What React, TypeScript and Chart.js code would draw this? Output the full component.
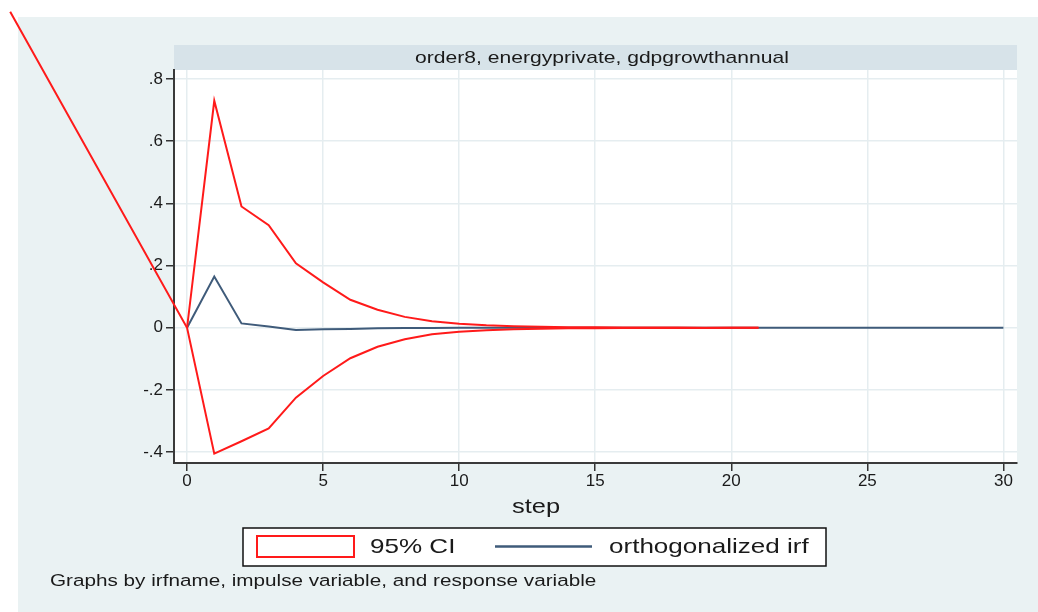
import React, { useEffect, useRef } from 'react';
import { Chart, registerables } from 'chart.js';

Chart.register(...registerables);

// ---- data ----
const steps = [0, 1, 2, 3, 4, 5, 6, 7, 8, 9, 10, 11, 12, 13, 14, 15, 16, 17, 18, 19, 20, 21, 22, 23, 24, 25, 26, 27, 28, 29, 30];
// the CI outline is only visible up to step 21 in the reference
const ciUpper = [0, 0.73, 0.39, 0.33, 0.207, 0.146, 0.09, 0.058, 0.035, 0.021, 0.013, 0.008, 0.005, 0.003, 0.002, 0.0015, 0.001, 0.0008, 0.0006, 0.0004, 0.0003, 0.0002];
const ciLower = [0, -0.405, -0.365, -0.324, -0.225, -0.155, -0.098, -0.061, -0.037, -0.021, -0.013, -0.008, -0.005, -0.003, -0.002, -0.0015, -0.001, -0.0008, -0.0006, -0.0004, -0.0003, -0.0002];
const irf = [0, 0.165, 0.014, 0.004, -0.007, -0.005, -0.004, -0.002, -0.001, -0.0005, -0.0002, 0, 0, 0, 0, 0, 0, 0, 0, 0, 0, 0, 0, 0, 0, 0, 0, 0, 0, 0, 0];
// stray CI outline segment that runs out of the plot to the upper left
const strayStep = -6.5;
const strayValue = 1.016;

const xTicks = [0, 5, 10, 15, 20, 25, 30];
const xTickLabels = ['0', '5', '10', '15', '20', '25', '30'];
const yTicks = [-0.4, -0.2, 0, 0.2, 0.4, 0.6, 0.8];
const yTickLabels = ['-.4', '-.2', '0', '.2', '.4', '.6', '.8'];

const panelTitle = 'order8, energyprivate, gdpgrowthannual';
const xTitle = 'step';
const legendLabels = ['95% CI', 'orthogonalized irf'];
const note = 'Graphs by irfname, impulse variable, and response variable';

const FONT = '"Liberation Sans", Arial, Helvetica, sans-serif';
const RED = '#ff1a1a';
const NAVY = '#3f5b7a';
const TEXT = '#1a1a1a';
const SX = 1.24; // horizontal stretch of the reference

function stretchedText(ctx: CanvasRenderingContext2D, text: string, x: number, y: number, size: number, align: 'left' | 'center') {
  ctx.save();
  ctx.font = `${size}px ${FONT}`;
  ctx.textBaseline = 'middle';
  ctx.textAlign = 'left';
  const w = ctx.measureText(text).width * SX;
  const x0 = align === 'center' ? x - w / 2 : x;
  ctx.translate(x0, y);
  ctx.scale(SX, 1);
  ctx.fillStyle = TEXT;
  ctx.fillText(text, 0, 0);
  ctx.restore();
}

const decor = {
  id: 'decor',
  beforeDraw(chart: any) {
    const { ctx, chartArea: a, width, height } = chart;
    ctx.save();
    ctx.fillStyle = '#ffffff';
    ctx.fillRect(0, 0, width, height);
    ctx.fillStyle = '#eaf2f3';
    ctx.fillRect(18, 17, width - 18, height - 17);
    ctx.fillStyle = '#ffffff';
    ctx.fillRect(a.left, a.top, a.right - a.left, a.bottom - a.top);
    ctx.fillStyle = '#d7e3e9';
    ctx.fillRect(a.left, 45, a.right - a.left, a.top - 45);
    ctx.restore();
    stretchedText(ctx, panelTitle, 602, 58, 17, 'center');
  },
  afterDraw(chart: any) {
    const { ctx } = chart;
    // x-axis title
    stretchedText(ctx, xTitle, 536, 507, 20.5, 'center');
    // legend box
    ctx.save();
    ctx.fillStyle = '#ffffff';
    ctx.fillRect(243, 528, 583, 38);
    ctx.strokeStyle = '#111111';
    ctx.lineWidth = 1.5;
    ctx.strokeRect(243, 528, 583, 38);
    ctx.strokeStyle = RED;
    ctx.lineWidth = 2;
    ctx.strokeRect(257, 536, 97, 21);
    ctx.strokeStyle = NAVY;
    ctx.lineWidth = 2.5;
    ctx.beginPath();
    ctx.moveTo(495, 546.5);
    ctx.lineTo(592, 546.5);
    ctx.stroke();
    ctx.restore();
    stretchedText(ctx, legendLabels[0], 370, 547, 21, 'left');
    stretchedText(ctx, legendLabels[1], 609, 547, 21, 'left');
    // note
    stretchedText(ctx, note, 50, 581, 16.7, 'left');
  },
};

export default function App() {
  const ref = useRef<HTMLCanvasElement | null>(null);

  useEffect(() => {
    if (!ref.current) return;
    const upper = ciUpper.map((v, i) => ({ x: steps[i], y: v }));
    const lower = [{ x: strayStep, y: strayValue }, ...ciLower.map((v, i) => ({ x: steps[i], y: v }))];
    const resp = steps.map((s, i) => ({ x: s, y: irf[i] }));

    const chart = new Chart(ref.current, {
      type: 'line',
      data: {
        datasets: [
          { label: legendLabels[0], data: upper, borderColor: RED, borderWidth: 2, pointRadius: 0, fill: false, tension: 0, clip: false as any, order: 0 },
          { label: legendLabels[0] + ' lower', data: lower, borderColor: RED, borderWidth: 2, pointRadius: 0, fill: false, tension: 0, clip: false as any, order: 0 },
          { label: legendLabels[1], data: resp, borderColor: NAVY, borderWidth: 2, pointRadius: 0, fill: false, tension: 0, clip: false as any, order: 1 },
        ],
      },
      options: {
        responsive: false,
        animation: false,
        events: [],
        layout: { padding: { left: 0, top: 70, right: 21, bottom: 94 } },
        plugins: { legend: { display: false }, tooltip: { enabled: false }, title: { display: false } },
        scales: {
          x: {
            type: 'linear',
            min: -0.48,
            max: 30.5,
            afterBuildTicks: (s: any) => { s.ticks = xTicks.map((v) => ({ value: v })); },
            afterFit: (s: any) => { s.height = 55; },
            ticks: {
              callback: (v: any) => xTickLabels[xTicks.indexOf(Number(v))] ?? '',
              font: { family: FONT, size: 17 },
              color: TEXT,
              padding: 0,
              maxRotation: 0,
              autoSkip: false,
            },
            grid: { color: '#e5edf0', lineWidth: 1.5, tickLength: 8, tickColor: '#333333', tickWidth: 1.5 },
            border: { color: '#3a3a3a', width: 2 },
          },
          y: {
            type: 'linear',
            min: -0.435,
            max: 0.829,
            afterBuildTicks: (s: any) => { s.ticks = yTicks.map((v) => ({ value: v })); },
            afterFit: (s: any) => { s.width = 174; },
            ticks: {
              callback: (v: any) => {
                const i = yTicks.findIndex((t) => Math.abs(t - Number(v)) < 1e-9);
                return i >= 0 ? yTickLabels[i] : '';
              },
              font: { family: FONT, size: 17 },
              color: TEXT,
              padding: 3,
              autoSkip: false,
            },
            grid: { color: '#e5edf0', lineWidth: 1.5, tickLength: 8, tickColor: '#333333', tickWidth: 1.5 },
            border: { color: '#3a3a3a', width: 2 },
          },
        },
      },
      plugins: [decor],
    });
    return () => chart.destroy();
  }, []);

  return (
    <div style={{ position: 'absolute', left: 0, top: 0, width: 1038, height: 612 }}>
      <canvas ref={ref} width={1038} height={612} style={{ display: 'block', width: 1038, height: 612 }} />
    </div>
  );
}
